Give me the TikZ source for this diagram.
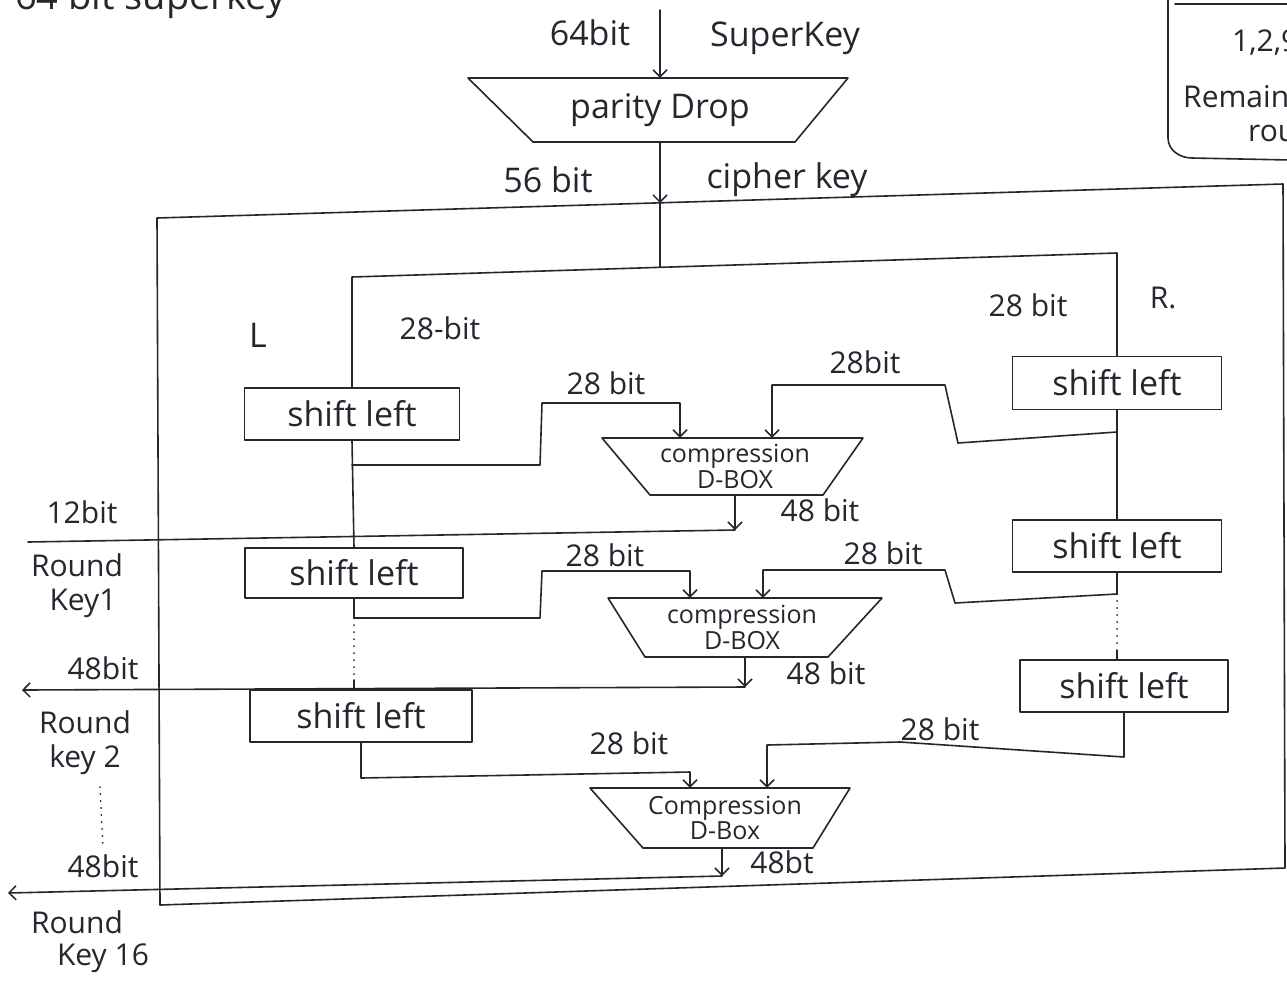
\documentclass[tikz,border=0pt]{standalone}
\usepackage{fontspec}
\setmainfont{Open Sans}
\usetikzlibrary{arrows.meta,calc}
\definecolor{inkc}{HTML}{26262E}
\newcommand\hwbig{\fontsize{34}{36}\selectfont}
\newcommand\hwmid{\fontsize{30}{32}\selectfont}
\newcommand\hwsmall{\fontsize{25}{23}\selectfont}
\tikzset{
  ink/.style={draw=inkc, line width=1.6pt, line cap=round, line join=round},
  arr/.style={ink, -{Straight Barb[length=7pt,width=14pt,line width=1.5pt]}},
  dotline/.style={draw=inkc, line width=2pt, line cap=round, dash pattern=on 0pt off 7pt},
  shiftbox/.style={ink, rectangle, inner sep=0pt, text=inkc, font=\hwbig},
  tnode/.style={rectangle, inner sep=0pt, text=inkc, align=center},
  lbl/.style={text=inkc, inner sep=0pt},
  blbl/.style={lbl, font=\hwbig},
  mlbl/.style={lbl, font=\hwmid},
}
\begin{document}
\begin{tikzpicture}[x=1pt,y=-1pt]
\useasboundingbox (0,0) rectangle (1287,989);
\clip (0,0) rectangle (1287,989);
\fill[white] (0,0) rectangle (1287,989);

% cut-off text at the top left
\node[lbl, font=\fontsize{38}{40}\selectfont, anchor=base west] (frag) at (15,9) {64 bit superkey};

% cut-off note box at the top right
\draw[ink] (1175,4) -- (1290,4);
\draw[ink] (1168,0) -- (1168,138) to[out=-90,in=180] (1192,158) -- (1290,160);
\node[mlbl, anchor=west] (note1) at (1232,43) {1,2,9,16};
\node[mlbl, anchor=west] (note2) at (1183,100) {Remaining};
\node[mlbl, anchor=west] (note3) at (1248,130) {rounds};

% parity drop
\coordinate (top) at (660,10);
\draw[ink] (468,78) -- (848,78) -- (795,142) -- (533,142) -- cycle;
\node[tnode, font=\hwbig, minimum width=262pt, minimum height=64pt] (pd) at (660,110) {parity Drop};
\draw[arr] (top) -- (pd.north);
\node[blbl] (l64) at (590,33) {64bit};
\node[blbl] (lsk) at (785,38) {SuperKey};
\node[blbl] (l56) at (548,180) {56 bit};
\node[blbl] (lck) at (787,180) {cipher key};

% big frame
\draw[ink] (157,218) -- (1283,184) -- (1285,868) -- (160,905) -- cycle;
\coordinate (entry) at (660,203);
\coordinate (split) at (660,267);
\draw[arr] (pd.south) -- (entry);
\draw[ink] (entry) -- (split);

% shift boxes
\node[shiftbox, minimum width=215pt, minimum height=52pt] (L1) at (352,414) {shift left};
\node[shiftbox, minimum width=218pt, minimum height=50pt] (L2) at (354,573) {shift left};
\node[shiftbox, minimum width=222pt, minimum height=52pt] (L3) at (361,716) {shift left};
\node[shiftbox, minimum width=209pt, minimum height=53pt] (R1) at (1117,383) {shift left};
\node[shiftbox, minimum width=209pt, minimum height=52pt] (R2) at (1117,546) {shift left};
\node[shiftbox, minimum width=208pt, minimum height=52pt] (R3) at (1124,686) {shift left};

% compression boxes
\draw[ink] (602,438) -- (863,438) -- (823,495) -- (650,495) -- cycle;
\node[tnode, font=\hwsmall, minimum width=173pt, minimum height=57pt] (C1) at (735,466.5) {compression\\D-BOX};
\draw[ink] (608,598) -- (882,598) -- (828,657) -- (645,657) -- cycle;
\node[tnode, font=\hwsmall, minimum width=183pt, minimum height=59pt] (C2) at (742,627.5) {compression\\D-BOX};
\draw[ink] (590,788) -- (850,788) -- (813,848) -- (643,848) -- cycle;
\node[tnode, font=\hwsmall, minimum width=170pt, minimum height=60pt] (C3) at (725,818) {Compression\\D-Box};

% split into halves
\draw[ink] (L1.north) -- (L1.north |- 0,277) -- (R1.north |- 0,253) -- (R1.north);
\node[blbl] (lL) at (258,335) {L};
\node[mlbl] (l28a) at (440,328) {28-bit};
\node[mlbl] (l28b) at (1028,305) {28 bit};
\node[mlbl] (lR) at (1163,298) {R.};

% round 1
\coordinate (b1) at (L1.south |- 0,465);
\draw[ink] (L1.south) -- (L2.north);
\draw[arr] (b1) -- (540,465) -- (542,403) -- (680,403) -- (680,0 |- C1.north);
\coordinate (b1r) at (R1.south |- 0,432);
\draw[ink] (R1.south) -- (R2.north);
\draw[arr] (b1r) -- (958,443) -- (945,385) -- (772,385) -- (772,0 |- C1.north);
\node[mlbl] (l28c) at (606,383) {28 bit};
\node[mlbl] (l28d) at (865,362) {28bit};
\coordinate (k1) at (735,530);
\coordinate (rk1) at (28,542);
\draw[arr] (735,0 |- C1.south) -- (k1);
\draw[ink] (k1) -- (rk1);
\node[mlbl] (l48a) at (820,510) {48 bit};

% round 2
\coordinate (b2) at (L2.south |- 0,618);
\coordinate (d2) at (L2.south |- 0,680);
\draw[ink] (L2.south) -- (b2);
\draw[dotline] (b2) -- (d2);
\draw[ink] (d2) -- (L3.north -| d2);
\draw[arr] (b2) -- (540,618) -- (542,571) -- (690,571) -- (690,0 |- C2.north);
\coordinate (b2r) at (R2.south |- 0,594);
\coordinate (d2r) at (R2.south |- 0,650);
\draw[ink] (R2.south) -- (b2r);
\draw[dotline] (b2r) -- (d2r);
\draw[ink] (d2r) -- (R3.north -| d2r);
\draw[arr] (b2r) -- (955,603) -- (945,570) -- (763,570) -- (763,0 |- C2.north);
\node[mlbl] (l28e) at (605,555) {28 bit};
\node[mlbl] (l28f) at (883,553) {28 bit};
\coordinate (k2) at (745,687);
\coordinate (rk2) at (22,690);
\draw[arr] (745,0 |- C2.south) -- (k2);
\draw[arr] (k2) -- (rk2);
\node[mlbl] (l48b) at (826,673) {48 bit};

% round 16
\draw[arr] (L3.south) -- (L3.south |- 0,778) -- (690,772) -- (690,0 |- C3.north);
\draw[arr] (R3.south) -- (R3.south |- 0,757) -- (900,742) -- (767,745) -- (767,0 |- C3.north);
\node[mlbl] (l28g) at (629,743) {28 bit};
\node[mlbl] (l28h) at (940,729) {28 bit};
\coordinate (k3) at (722,876);
\coordinate (rk16) at (8,893);
\draw[arr] (722,0 |- C3.south) -- (k3);
\draw[arr] (k3) -- (rk16);
\node[mlbl] (l48c) at (782,862) {48bt};

% left labels
\node[mlbl] (t12) at (82,512) {12bit};
\node[mlbl] (rk1a) at (77,565) {Round};
\node[mlbl] (rk1b) at (83,603) {Key1};
\node[mlbl] (t48a) at (103,668) {48bit};
\node[mlbl] (rk2a) at (85,722) {Round};
\node[mlbl] (rk2b) at (85,760) {key 2};
\coordinate (dotA) at (100,787);
\coordinate (dotB) at (103,848);
\draw[dotline] (dotA) -- (dotB);
\node[mlbl] (t48b) at (103,866) {48bit};
\node[mlbl] (rk16a) at (77,922) {Round};
\node[mlbl] (rk16b) at (103,958) {Key 16};
\end{tikzpicture}
\end{document}
